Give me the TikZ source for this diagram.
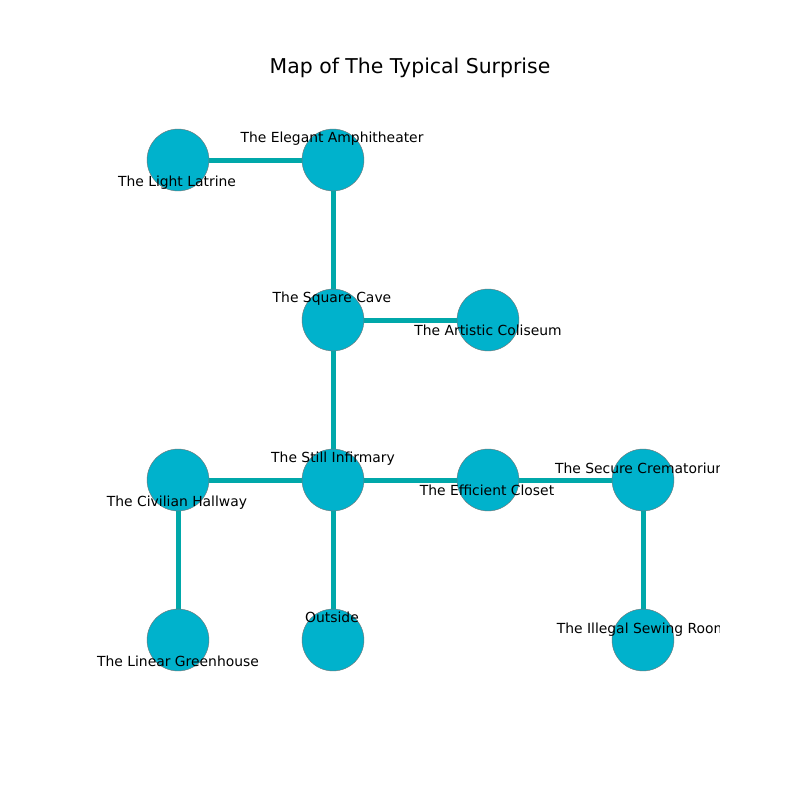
\documentclass[tikz,border=0pt]{standalone}
\usepackage{fontspec}
\setmainfont{DejaVu Sans}
\usetikzlibrary{positioning, backgrounds}
\definecolor{room}{HTML}{00B2CC}
\definecolor{hall}{HTML}{00A8AA}

\begin{document}
\begin{tikzpicture}[
    x=0.72pt, y=-0.72pt,
    rm/.style={draw=black!55, line width=0.3pt, circle, fill=room, minimum size=44.6pt, inner sep=0},
    lbl/.style={font=\fontsize{10}{12}\selectfont, inner sep=0, anchor=center},
    pass/.style={draw=hall, line width=3.6pt}]
\useasboundingbox (0,0) rectangle (800,800);
\node[font=\fontsize{14.7}{16}\selectfont] (title) at (410,68) {Map of The Typical Surprise};
\begin{scope}
\clip (80,88) rectangle (719.5,712);
% rooms
\node[rm] (latrine) at (178,160) {};
\node[rm] (amphi)   at (333,160) {};
\node[rm] (cave)    at (333,320) {};
\node[rm] (colis)   at (488,320) {};
\node[rm] (hallway) at (178,480) {};
\node[rm] (infirm)  at (333,480) {};
\node[rm] (closet)  at (488,480) {};
\node[rm] (crema)   at (643,480) {};
\node[rm] (green)   at (178,640) {};
\node[rm] (outside) at (333,640) {};
\node[rm] (sewing)  at (643,640) {};
% labels
\node[lbl] (l-latrine) at (177,183) {The Light Latrine};
\node[lbl] (l-amphi)   at (332,139) {The Elegant Amphitheater};
\node[lbl] (l-cave)    at (332,299) {The Square Cave};
\node[lbl] (l-colis)   at (488,330) {The Artistic Coliseum};
\node[lbl] (l-hallway) at (177,503) {The Civilian Hallway};
\node[lbl] (l-infirm)  at (333,459) {The Still Infirmary};
\node[lbl] (l-closet)  at (487,490) {The Efficient Closet};
\node[lbl] (l-crema)   at (642,468) {The Secure Crematorium};
\node[lbl] (l-green)   at (178,661) {The Linear Greenhouse};
\node[lbl] (l-outside) at (332,617) {Outside};
\node[lbl] (l-sewing)  at (642,630) {The Illegal Sewing Room};
\end{scope}
% passages
\begin{scope}[on background layer]
\draw[pass] (latrine)--(amphi); \draw[pass] (amphi)--(cave);
\draw[pass] (cave)--(colis);    \draw[pass] (cave)--(infirm);
\draw[pass] (hallway)--(infirm); \draw[pass] (infirm)--(closet);
\draw[pass] (closet)--(crema);  \draw[pass] (infirm)--(outside);
\draw[pass] (hallway)--(green); \draw[pass] (crema)--(sewing);
\end{scope}
\end{tikzpicture}
\end{document}
